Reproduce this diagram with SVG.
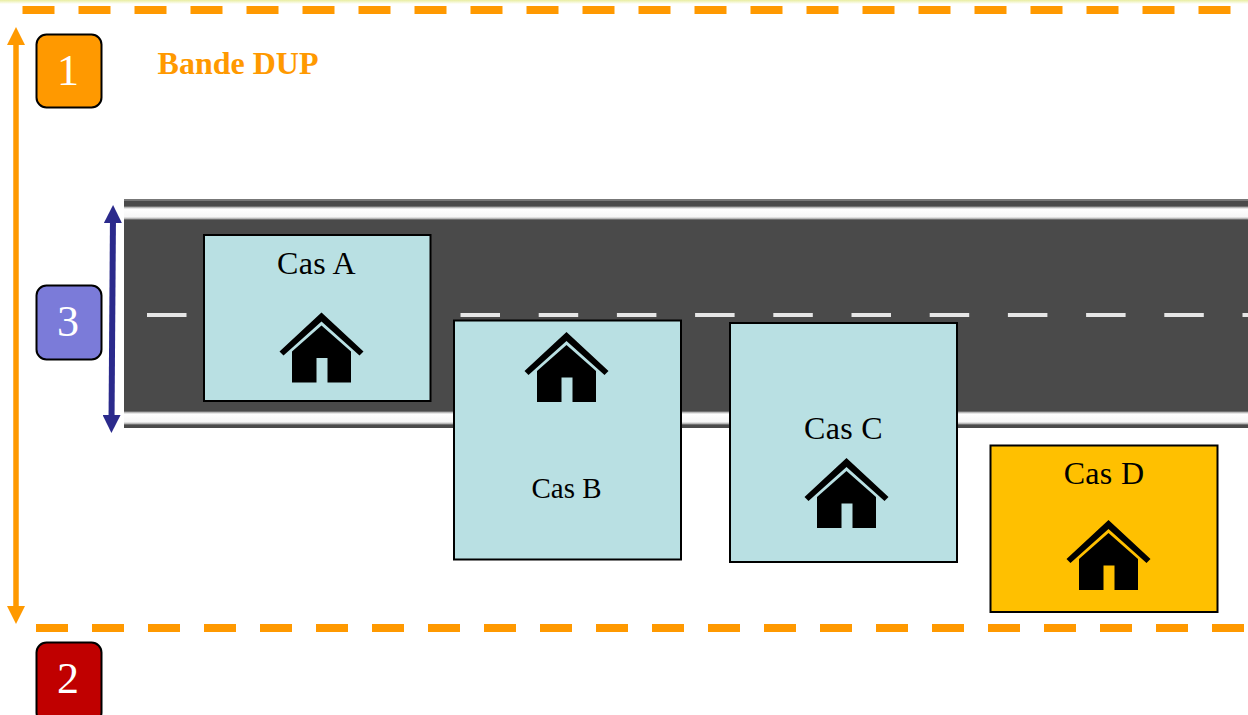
<svg xmlns="http://www.w3.org/2000/svg" width="1248" height="715" viewBox="0 0 1248 715">
<style>
.t{font-family:"Liberation Serif","Times New Roman",serif;text-anchor:middle}
.case{fill:#b9e0e3;stroke:#000;stroke-width:2}
.caseD{fill:#ffc000;stroke:#000;stroke-width:2}
.badge{stroke:#000;stroke-width:2}
.num{font-size:44px;fill:#fff}
.lab{font-size:32px;fill:#000;letter-spacing:.3px}
.labB{font-size:29px;fill:#000}
.dup{fill:none;stroke:#ff9900;stroke-width:8;stroke-dasharray:32 24}
.cen{fill:none;stroke:#e6e6e6;stroke-width:4;stroke-dasharray:39.5 38.7}
</style>
<defs>
<linearGradient id="stripe" x1="0" y1="0" x2="0" y2="1">
<stop offset="0" stop-color="#4a4a4a"/><stop offset=".1" stop-color="#b5b5b5"/><stop offset=".22" stop-color="#fff"/><stop offset=".78" stop-color="#f6f6f6"/><stop offset=".9" stop-color="#b5b5b5"/><stop offset="1" stop-color="#4a4a4a"/>
</linearGradient>
<linearGradient id="topglow" x1="0" y1="0" x2="0" y2="1">
<stop offset="0" stop-color="#e9eda0"/><stop offset="1" stop-color="#ffffff"/>
</linearGradient>
<marker id="ao" viewBox="0 0 18 18" refX="9" refY="9" markerWidth="18" markerHeight="18" markerUnits="userSpaceOnUse" orient="auto-start-reverse"><path d="M0 0L18 9L0 18Z" fill="#ff9900"/></marker>
<marker id="ab" viewBox="0 0 18 18" refX="9" refY="9" markerWidth="18" markerHeight="18" markerUnits="userSpaceOnUse" orient="auto-start-reverse"><path d="M0 0L18 9L0 18Z" fill="#2b2a8c"/></marker>
<g id="house">
<path d="M0 0L42 39L38 43L0 9L-38 43L-42 39Z" fill="#000"/>
<path fill-rule="evenodd" d="M0 13L29.500 39V70H6V45.500H-5V70H-29.500V39Z" fill="#000"/>
</g>
</defs>
<rect width="1248" height="715" fill="#fff"/>
<rect width="1248" height="4" fill="url(#topglow)"/>
<g id="road">
<rect x="124" y="199" width="1124" height="229" fill="#4a4a4a"/>
<rect x="124" y="199" width="1124" height="2" fill="#777"/>
<rect x="124" y="206" width="1124" height="14" fill="url(#stripe)"/>
<rect x="124" y="411" width="1124" height="14" fill="url(#stripe)"/>
<path class="cen" d="M147 315H187"/>
<path class="cen" d="M460.500 315H1248"/>
</g>
<g id="connectors">
<path class="dup" d="M22.500 10H1248"/>
<path class="dup" d="M36 628H1248"/>
<path d="M16 36V615" fill="none" stroke="#ff9900" stroke-width="5.500" marker-start="url(#ao)" marker-end="url(#ao)"/>
<path d="M113 214L111.500 424" fill="none" stroke="#2b2a8c" stroke-width="6" marker-start="url(#ab)" marker-end="url(#ab)"/>
</g>
<g id="badge-1"><rect class="badge" x="36.500" y="34.500" width="65" height="73" rx="10" fill="#ff9900"/><text class="t num" x="68" y="85">1</text></g>
<g id="badge-2"><rect class="badge" x="36.500" y="642.500" width="65" height="80" rx="10" fill="#c00000"/><text class="t num" x="68" y="693">2</text></g>
<g id="badge-3"><rect class="badge" x="36.500" y="285.500" width="65" height="74" rx="10" fill="#7b7bd9"/><text class="t num" x="68" y="336">3</text></g>
<g id="title"><text class="t" x="238" y="74" font-size="32" font-weight="bold" fill="#ff9900">Bande DUP</text></g>
<g id="cas-a"><rect class="case" x="204" y="235" width="226.500" height="166"/><text class="t lab" x="316.500" y="274">Cas A</text><use href="#house" x="321.500" y="312.500"/></g>
<g id="cas-b"><rect class="case" x="454" y="320.500" width="227" height="239"/><text class="t labB" x="566.500" y="498">Cas B</text><use href="#house" x="566.500" y="332"/></g>
<g id="cas-c"><rect class="case" x="730" y="323" width="227" height="239"/><text class="t lab" x="843.500" y="439">Cas C</text><use href="#house" x="846.500" y="458"/></g>
<g id="cas-d"><rect class="caseD" x="990.500" y="445.500" width="227" height="166.500"/><text class="t lab" x="1104" y="484">Cas D</text><use href="#house" x="1108.500" y="520"/></g>
</svg>
